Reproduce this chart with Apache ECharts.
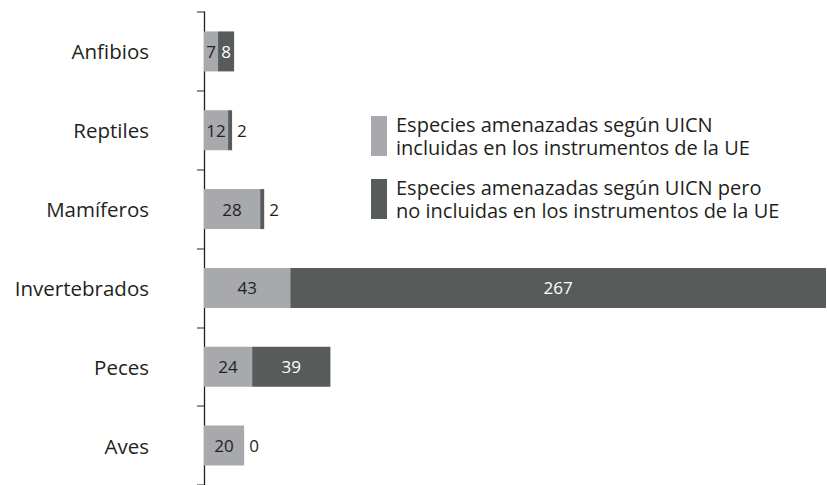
<!DOCTYPE html>
<html>
<head>
<meta charset="utf-8">
<script src="https://cdn.jsdelivr.net/npm/echarts@6/dist/echarts.min.js"></script>
<style>
  html, body { margin: 0; padding: 0; background: #fff; }
  #chart { width: 827px; height: 485px; }
</style>
</head>
<body>
<div id="chart"></div>
<script>
// datos
const categories = ['Anfibios', 'Reptiles', 'Mamíferos', 'Invertebrados', 'Peces', 'Aves'];
const incluidas = [7, 12, 28, 43, 24, 20];
const noIncluidas = [8, 2, 2, 267, 39, 0];
const seriesNames = [
  'Especies amenazadas según UICN\nincluidas en los instrumentos de la UE',
  'Especies amenazadas según UICN pero\nno incluidas en los instrumentos de la UE'
];

const LIGHT = '#a7a9ac';
const DARK = '#575c5a';
const TEXT = '#231f20';
const FONT = 'Open Sans, sans-serif';

const chart = echarts.init(document.getElementById('chart'), null, { renderer: 'svg' });

// las barras oscuras pequeñas llevan la etiqueta fuera, a la derecha
const darkData = noIncluidas.map(v => {
  if (v >= 5) return { value: v };
  return { value: v, label: { position: 'right', color: TEXT } };
});

chart.setOption({
  animation: false,
  textStyle: { fontFamily: FONT },
  grid: { left: 204, right: 1, top: 12, height: 480 },
  legend: {
    data: seriesNames,
    orient: 'vertical',
    left: 366,
    top: 108,
    itemWidth: 16,
    itemHeight: 40,
    itemGap: 17,
    icon: 'rect',
    textStyle: { fontSize: 20, color: TEXT, lineHeight: 23, fontFamily: FONT, padding: [0, 0, 0, 4] }
  },
  xAxis: {
    type: 'value',
    min: 0,
    max: 310,
    show: false
  },
  yAxis: {
    type: 'category',
    data: categories,
    inverse: true,
    axisLine: { show: true, lineStyle: { color: TEXT, width: 1.3 } },
    axisTick: { show: true, inside: false, length: 7, lineStyle: { color: '#6d6e71', width: 1.5 } },
    axisLabel: { fontSize: 20.5, color: TEXT, margin: 55, fontFamily: FONT }
  },
  series: [
    {
      name: seriesNames[0],
      type: 'bar',
      stack: 'total',
      data: incluidas,
      barWidth: 40,
      itemStyle: { color: LIGHT },
      label: { show: true, position: 'inside', color: TEXT, fontSize: 17, fontFamily: FONT }
    },
    {
      name: seriesNames[1],
      type: 'bar',
      stack: 'total',
      data: darkData,
      barWidth: 40,
      itemStyle: { color: DARK },
      label: { show: true, position: 'inside', color: '#fff', fontSize: 17, fontFamily: FONT }
    }
  ]
});
</script>
</body>
</html>
